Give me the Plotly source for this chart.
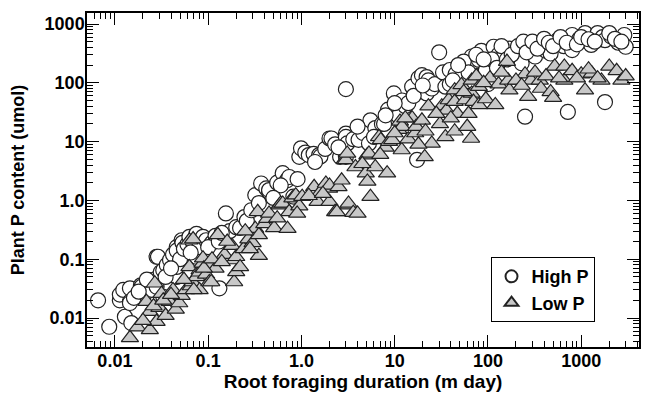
import plotly.graph_objects as go

# High P (circles)
high_x = [0.0066, 0.0087, 0.0113, 0.0113, 0.0123, 0.0128, 0.0145, 0.0145, 0.0145, 0.015,
          0.016, 0.019, 0.0193, 0.021, 0.0237, 0.025, 0.028, 0.028, 0.028, 0.029,
          0.031, 0.033, 0.033, 0.036, 0.039, 0.042, 0.046, 0.046, 0.046, 0.046,
          0.05, 0.052, 0.053, 0.055, 0.06, 0.063, 0.068, 0.075, 0.075, 0.08,
          0.088, 0.095, 0.11, 0.12, 0.132,
          0.155, 0.17, 0.2, 0.22, 0.245, 0.26, 0.29, 0.32, 0.35, 0.37,
          0.42, 0.45, 0.45, 0.55, 0.63, 0.7, 0.74, 0.82, 0.91, 0.95,
          0.99, 1.1, 1.2, 1.35, 1.55, 1.6, 1.8, 2.0, 2.1, 2.3,
          2.6, 3.0, 3.0, 3.0, 3.1, 3.0, 3.6, 4.1, 4.6, 5.3,
          5.5, 6.2, 7.3, 7.7, 8.5, 9.8, 10.2, 11, 12, 13,
          14, 15.4, 17.4, 18, 19.6, 22, 22, 23, 25, 27,
          30, 33, 35, 39, 39, 45, 52, 60, 66, 67,
          73, 80, 85, 95, 100, 115, 130, 150, 170, 200,
          230, 250, 280, 320, 380, 420, 470, 560, 650, 720,
          800, 800, 950, 1100, 1280, 1500, 1700, 1800, 1800, 2100,
          2500, 2900, 3000,
          110, 125, 140, 160, 180, 210, 240, 260, 300, 340,
          400, 450, 500, 600, 700, 900, 1000, 1200, 1400, 2000,
          2300, 2700, 55, 62, 75, 90, 48, 42,
          0.6, 0.5, 1.4, 2.5, 4.0, 6.0, 8.0, 10, 16, 20,
          0.018, 0.022, 0.035, 0.04, 0.065, 0.1, 0.13, 0.14]
high_y = [0.020, 0.0071, 0.020, 0.025, 0.030, 0.0105, 0.019, 0.032, 0.018, 0.0082,
          0.022, 0.036, 0.034, 0.026, 0.044, 0.03, 0.11, 0.034, 0.047, 0.11,
          0.06, 0.065, 0.023, 0.08, 0.097, 0.12, 0.16, 0.05, 0.14, 0.074,
          0.1, 0.21, 0.19, 0.15, 0.18, 0.24, 0.2, 0.27, 0.11, 0.16,
          0.24, 0.21, 0.19, 0.25, 0.032,
          0.6, 0.3, 0.35, 0.34, 0.52, 0.45, 0.68, 1.23, 0.9, 1.94,
          1.6, 1.4, 1.5, 2.0, 2.9, 2.2, 2.5, 1.16, 2.3, 5.5,
          7.7, 6.5, 5.9, 6.2, 5.9, 5.6, 7.5, 11.3, 11.3, 9,
          5.5, 78, 13.7, 12, 9.3, 5.5, 11, 10.7, 14, 9.3,
          23, 17, 20, 20, 35, 66, 30, 27, 50, 40,
          45, 86, 4.9, 120, 135, 66, 125, 110, 80, 95,
          330, 150, 86, 165, 95, 140, 125, 200, 190, 280,
          230, 245, 350, 165, 95, 410, 300, 330, 380, 280,
          215, 26.5, 410, 280, 440, 350, 315, 530, 420, 32,
          650, 360, 550, 700, 440, 700, 600, 530, 47, 610,
          480, 650, 410,
          250, 180, 420, 250, 300, 420, 500, 330, 500, 380,
          560, 480, 420, 600, 480, 450, 600, 550, 500, 700,
          560, 500, 230, 150, 300, 250, 200, 110,
          1.8, 1.1, 4.5, 8, 18, 12, 28, 45, 60, 90,
          0.028, 0.045, 0.05, 0.07, 0.13, 0.16, 0.2, 0.28]

# Low P (triangles)
low_x = [0.0145, 0.0175, 0.0218, 0.0237, 0.0237, 0.0268, 0.028, 0.03, 0.0316, 0.035,
         0.0387, 0.042, 0.045, 0.049, 0.052, 0.058, 0.063, 0.063, 0.065, 0.068,
         0.069, 0.075, 0.081, 0.081, 0.081, 0.087, 0.088, 0.095, 0.103, 0.103,
         0.108, 0.12, 0.127, 0.15, 0.18, 0.19, 0.19, 0.2, 0.2, 0.22,
         0.24, 0.27, 0.3, 0.32, 0.34, 0.35, 0.35, 0.4, 0.43, 0.45,
         0.51, 0.58, 0.6, 0.63, 0.71, 0.74, 0.8, 0.87, 0.95, 1.02,
         1.37, 1.49, 1.6, 1.83, 1.98, 2.0, 2.0, 2.3, 2.4, 2.5,
         2.9, 3.0, 3.1, 3.2, 3.2, 3.6, 3.8, 4.0, 4.9, 5.1,
         5.1, 5.3, 5.5, 6.2, 6.8, 7.1, 8, 8.3, 8.7, 9.4,
         11, 11.4, 11.9, 12, 14, 15.4, 16.6, 17, 19.6, 21,
         21.4, 23, 25, 30.6, 32, 35, 36, 38, 44, 44,
         44, 47, 52, 57, 60, 62, 66, 67, 67, 70,
         80, 80, 95, 105, 120, 130, 160, 165, 170, 250,
         270, 290, 360, 370, 470, 500, 520, 660, 660, 800,
         1000, 1100, 1300, 1650, 2000, 2400, 2700,
         0.02, 0.026, 0.033, 0.04, 0.055, 0.07, 0.09, 0.11, 0.14, 0.16,
         0.25, 0.28, 0.55, 0.9, 1.2, 1.7, 2.7, 4.5, 7, 10,
         13, 18, 28, 40, 55, 75, 90, 140, 200, 230,
         320, 420, 580, 900, 1200, 1500, 3000]
low_y = [0.0046, 0.007, 0.019, 0.0063, 0.0128, 0.039, 0.0087, 0.015, 0.026, 0.011,
         0.019, 0.030, 0.014, 0.018, 0.024, 0.030, 0.074, 0.21, 0.035, 0.041,
         0.22, 0.05, 0.065, 0.03, 0.06, 0.085, 0.104, 0.055, 0.079, 0.041,
         0.041, 0.07, 0.26, 0.12, 0.17, 0.097, 0.041, 0.11, 0.061, 0.074,
         0.15, 0.22, 0.19, 0.33, 0.64, 0.26, 0.115, 0.4, 0.49, 0.6,
         0.34, 0.83, 0.89, 0.89, 0.33, 0.64, 1.09, 1.23, 0.8, 1.16,
         1.7, 0.95, 1.4, 1.94, 1.6, 0.95, 1.8, 0.64, 0.64, 1.7,
         4.9, 4.9, 6.3, 0.83, 0.89, 0.62, 3.7, 0.6, 2.9, 5.9,
         2.1, 6.3, 1.16, 3.7, 12, 10.7, 8, 2.9, 10, 10.7,
         16, 22, 7.2, 18, 11, 25, 14, 18, 23, 5.5,
         15, 40, 9.3, 20, 40, 12, 34, 51, 15, 48,
         75, 30, 92, 51, 18, 30, 11.3, 66, 110, 48,
         42, 86, 53, 120, 42, 95, 230, 110, 75, 140,
         58, 110, 110, 80, 70, 56, 190, 190, 110, 160,
         140, 75, 145, 110, 190, 160, 110,
         0.009, 0.016, 0.02, 0.025, 0.045, 0.03, 0.07, 0.1, 0.09, 0.2,
         0.3, 0.15, 0.5, 0.6, 1.2, 1.3, 2.2, 4.2, 6, 14,
         25, 9, 30, 25, 70, 130, 100, 150, 110, 90,
         150, 130, 120, 120, 170, 120, 130]

x_tickvals = [0.01, 0.1, 1, 10, 100, 1000]
x_ticktext = ["0.01", "0.1", "1.0", "10", "100", "1000"]
y_tickvals = [0.01, 0.1, 1, 10, 100, 1000]
y_ticktext = ["0.01", "0.1", "1.0", "10", "100", "1000"]

minor_vals = [k * 10 ** n for n in range(-3, 5) for k in range(2, 10)]

FONT = "Liberation Sans, Arial, sans-serif"

fig = go.Figure()
fig.add_trace(go.Scatter(
    x=high_x, y=high_y, mode="markers", name="High P",
    marker=dict(symbol="circle", size=15, color="white",
                line=dict(color="#222222", width=1.2)),
))
fig.add_trace(go.Scatter(
    x=low_x, y=low_y, mode="markers", name="Low P",
    marker=dict(symbol="triangle-up", size=15, color="#c8c8c8",
                line=dict(color="#222222", width=1.2)),
))

axis_common = dict(
    type="log", showgrid=False, zeroline=False,
    showline=True, linecolor="black", linewidth=1.5, mirror="allticks",
    ticks="inside", ticklen=12, tickwidth=1.2, tickcolor="black",
    tickfont=dict(family=FONT, size=18, color="black", weight="bold"),
    minor=dict(ticks="inside", ticklen=6, tickwidth=1, tickcolor="black",
               tickvals=minor_vals, showgrid=False),
)

fig.update_layout(
    width=646, height=393,
    margin=dict(l=87, r=5, t=13, b=46),
    paper_bgcolor="white", plot_bgcolor="white",
    xaxis=dict(range=[-2.299, 3.62], tickvals=x_tickvals, ticktext=x_ticktext,
               ticklabelstandoff=-3,
               title=dict(text="Root foraging duration (m day)", standoff=3,
                          font=dict(family=FONT, size=19, color="black", weight="bold")),
               **axis_common),
    yaxis=dict(range=[-2.493, 3.187], tickvals=y_tickvals, ticktext=y_ticktext,
               ticklabelstandoff=-3,
               title=dict(text="Plant P content (umol)", standoff=15,
                          font=dict(family=FONT, size=18, color="black", weight="bold")),
               **axis_common),
    legend=dict(x=0.731, y=0.269, xanchor="left", yanchor="top",
                bordercolor="black", borderwidth=1, bgcolor="white",
                font=dict(family=FONT, size=18, color="black", weight="bold"),
                itemsizing="constant", tracegroupgap=0),
    showlegend=True,
)

fig.write_html("out.html")
